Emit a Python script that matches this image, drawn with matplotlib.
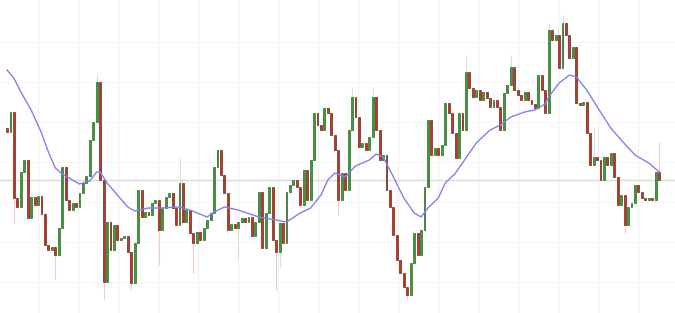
import matplotlib
matplotlib.use("Agg")
import matplotlib.pyplot as plt
import numpy as np

# ---- data ----
first_open = 185
closes = [
    181, 201, 115, 106, 141, 153, 95, 116, 108, 117,
    99, 68, 63, 66, 58, 85, 146, 113, 103, 110,
    106, 120, 130, 137, 173, 191, 231, 133, 31, 91,
    63, 88, 73, 75, 77, 61, 30, 70, 123, 96,
    101, 98, 110, 113, 83, 105, 116, 120, 105, 88,
    130, 91, 103, 80, 70, 81, 73, 85, 93, 100,
    146, 163, 138, 120, 83, 89, 85, 91, 95, 91,
    96, 77, 91, 121, 65, 100, 126, 73, 61, 90,
    70, 121, 128, 133, 126, 108, 143, 113, 153, 200,
    188, 183, 205, 200, 178, 163, 113, 140, 123, 183,
    216, 196, 166, 170, 163, 176, 216, 183, 153, 158,
    123, 106, 78, 53, 40, 26, 18, 50, 80, 58,
    83, 126, 193, 158, 165, 158, 168, 210, 200, 180,
    155, 200, 183, 241, 225, 216, 223, 213, 221, 215,
    206, 213, 206, 183, 220, 228, 246, 223, 218, 213,
    221, 213, 209, 205, 238, 223, 200, 283, 273, 278,
    245, 290, 278, 255, 266, 210, 208, 211, 180, 148,
    156, 153, 133, 156, 148, 160, 136, 108, 118, 88,
    106, 110, 128, 121, 115, 113, 115, 113, 141, 133,
]
# notable wick extremes (candle index -> price)
wick_highs = {26: 238, 50: 156, 100: 226, 106: 226, 133: 258, 146: 258,
              161: 298, 170: 186, 189: 171, 157: 290}
wick_lows = {2: 90, 14: 33, 28: 13, 36: 23, 44: 48, 67: 55, 78: 23,
             79: 46, 96: 98, 116: 13, 179: 80, 54: 40}

# moving average (candle index, value)
ma_idx = [0, 2, 4, 7, 10, 12, 14, 16, 18, 21, 24, 26, 27, 29, 32, 35, 37, 41,
          44, 50, 53, 58, 60, 63, 67, 73, 78, 81, 85, 88, 91, 93, 95, 98, 101,
          105, 107, 109, 112, 115, 118, 120, 122, 125, 127, 130, 133, 136, 140,
          143, 146, 150, 153, 156, 157, 160, 163, 165, 168, 172, 175, 178, 182,
          186, 189]
ma_vals = [243, 235, 221, 203, 180, 161, 145, 139, 135, 129, 132, 141, 141,
           130, 118, 106, 102, 105, 105, 106, 103, 96, 101, 106, 103, 96, 93,
           91, 100, 105, 118, 133, 140, 136, 147, 153, 159, 156, 136, 115, 100,
           96, 105, 115, 130, 140, 155, 170, 183, 188, 196, 201, 203, 209, 216,
           230, 238, 236, 223, 201, 185, 173, 158, 150, 141]

ref_price = 133

# ---- derived OHLC ----
closes = np.array(closes, dtype=float)
opens = np.concatenate([[first_open], closes[:-1]])
n = len(closes)
highs = np.maximum(opens, closes)
lows = np.minimum(opens, closes)
for k, v in wick_highs.items():
    highs[k] = max(highs[k], v)
for k, v in wick_lows.items():
    lows[k] = min(lows[k], v)
idx = np.arange(n)

fig = plt.figure(figsize=(6.75, 3.13), dpi=100)
ax = fig.add_axes([0, 0, 1, 1])
ax.set_xlim(-2.03, 193.6)
ax.set_ylim(0, 313)
ax.set_axis_off()

# faint grid
for g in np.arange(8.99, 193, 11.594):
    ax.axvline(g, color="#f0f2f0", lw=0.9, zorder=0)
for h in [31, 71, 111, 151, 191, 231, 271]:
    ax.axhline(h, color="#f7f7f7", lw=0.8, zorder=0)

ax.axhline(ref_price, color="#dadada", lw=1.0, zorder=1)

up = closes >= opens
green = "#3c9c3c"
red = "#c9332b"
cols = np.where(up, green, red)
wick_cols = np.where(up, "#d3e6d3", "#eed0d0")

ax.vlines(idx, lows, highs, colors=wick_cols, lw=0.8, zorder=2)
body_bottom = np.minimum(opens, closes)
body_h = np.maximum(np.abs(closes - opens), 1.2)
ax.bar(idx, body_h, bottom=body_bottom, width=0.55, color=cols,
       edgecolor=np.where(up, "#2d6a22", "#6a2a18"), linewidth=0.5, zorder=3)

ax.plot(ma_idx, ma_vals, color="#8080f0", lw=1.0, zorder=4)

fig.savefig("out.png", dpi=100)
